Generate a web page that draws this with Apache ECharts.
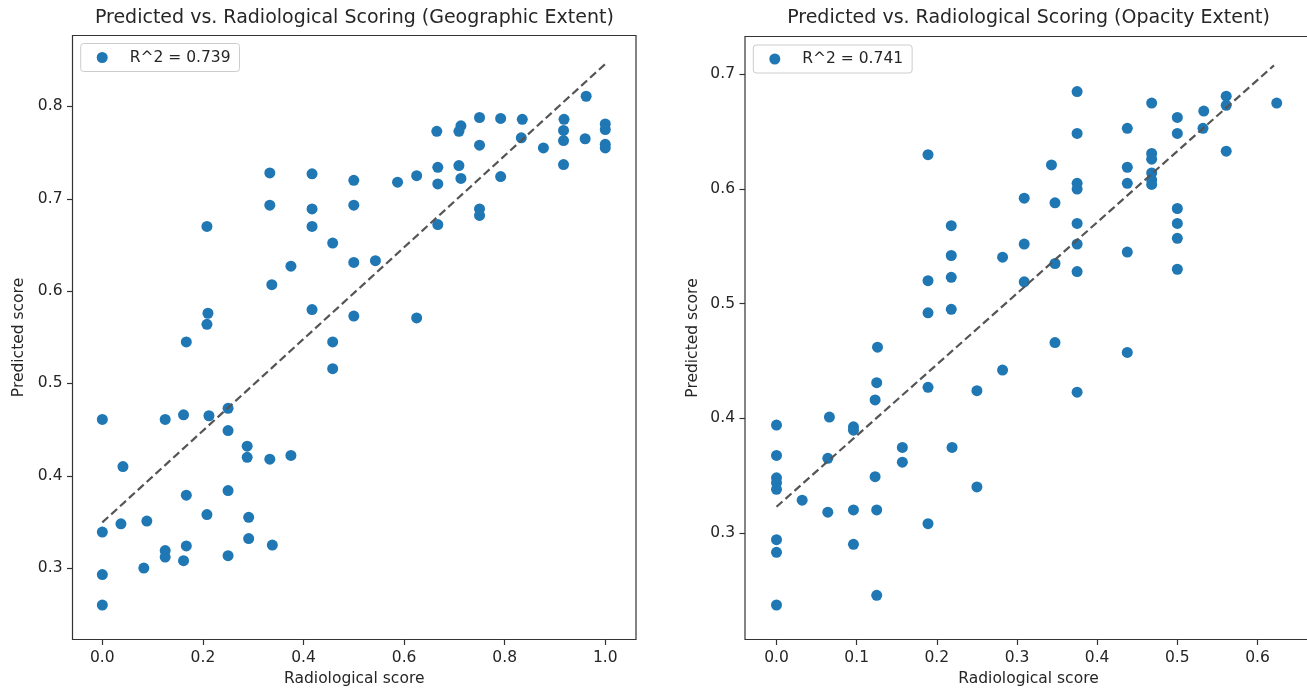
<!DOCTYPE html>
<html>
<head>
<meta charset="utf-8">
<script src="https://cdn.jsdelivr.net/npm/echarts@6/dist/echarts.min.js"></script>
<style>
html,body{margin:0;padding:0;background:#fff;}
#chart{width:1307px;height:691px;}
</style>
</head>
<body>
<div id="chart"></div>
<script>
// ---- Data ----
const geoTitle = 'Predicted vs. Radiological Scoring (Geographic Extent)';
const opaTitle = 'Predicted vs. Radiological Scoring (Opacity Extent)';
const geoLegend = 'R^2 = 0.739';
const opaLegend = 'R^2 = 0.741';
const xName = 'Radiological score';
const yName = 'Predicted score';

const geoX = [0.333,0.417,0.5,0.333,0.417,0.5,0.208,0.417,0.458,0.375,0.5,0.337,0.210,0.208,0.417,0.5,0.167,0.458,
  0.962,0.75,0.792,0.835,0.918,1.0,1.0,0.917,0.713,0.709,0.665,0.833,0.917,0.960,0.75,0.877,1.0,1.0,0.917,0.667,0.709,
  0.625,0.587,0.667,0.713,0.792,0.75,0.75,0.667,0.543,0.625,0.458,
  0.0,0.125,0.1615,0.212,0.25,0.25,0.288,0.288,0.333,0.375,0.041,0.167,0.25,0.208,0.291,0.0,0.037,0.0885,0.291,0.338,
  0.167,0.125,0.125,0.1615,0.25,0.0825,0.0,0.0];
const geoY = [0.728,0.727,0.720,0.693,0.689,0.693,0.670,0.670,0.652,0.627,0.631,0.607,0.576,0.564,0.580,0.573,0.545,0.545,
  0.811,0.788,0.787,0.786,0.786,0.781,0.775,0.774,0.779,0.773,0.773,0.766,0.763,0.765,0.758,0.755,0.759,0.755,0.737,0.734,0.736,
  0.725,0.718,0.716,0.722,0.724,0.689,0.682,0.672,0.633,0.571,0.516,
  0.461,0.461,0.466,0.465,0.473,0.449,0.432,0.420,0.418,0.422,0.410,0.379,0.384,0.358,0.355,0.339,0.348,0.351,0.332,0.325,
  0.324,0.319,0.312,0.308,0.3135,0.300,0.293,0.260];
const geoFitX = [0.0, 1.0];
const geoFitY = [0.3495, 0.846];

const opaX = [0.189,0.309,0.218,0.218,0.282,0.309,0.189,0.218,0.309,0.189,0.218,0.126,0.3474,0.4376,
  0.375,0.468,0.624,0.561,0.561,0.533,0.5,0.4376,0.5,0.375,0.532,0.561,0.468,0.468,0.343,0.4376,0.468,0.468,0.468,
  0.375,0.375,0.4376,0.3474,0.5,0.375,0.5,0.5,0.375,0.3474,0.4376,0.375,0.5,0.375,0.282,0.125,0.189,0.25,0.123,
  0.0,0.066,0.096,0.096,0.157,0.219,0.157,0.0,0.064,0.123,0.0,0.0,0.0,0.25,0.032,0.064,0.096,0.125,0.189,
  0.0,0.0,0.096,0.125,0.0];
const opaY = [0.630,0.592,0.568,0.542,0.5405,0.552,0.520,0.523,0.519,0.492,0.495,0.462,0.466,0.4574,
  0.685,0.675,0.675,0.681,0.673,0.668,0.6625,0.653,0.6485,0.6485,0.653,0.633,0.631,0.626,0.621,0.619,0.614,0.608,0.604,
  0.605,0.600,0.605,0.588,0.583,0.570,0.570,0.557,0.552,0.535,0.545,0.528,0.530,0.4227,0.442,0.431,0.427,0.424,0.416,
  0.394,0.401,0.3925,0.3896,0.3745,0.3745,0.3616,0.3675,0.365,0.349,0.348,0.3436,0.338,0.340,0.3285,0.318,0.320,0.320,0.308,
  0.294,0.283,0.290,0.2455,0.237];
const opaFitX = [0.0, 0.6206];
const opaFitY = [0.3227, 0.7079];

const geoXTicks = [0.0,0.2,0.4,0.6,0.8,1.0];
const geoYTicks = [0.3,0.4,0.5,0.6,0.7,0.8];
const opaXTicks = [0.0,0.1,0.2,0.3,0.4,0.5,0.6];
const opaYTicks = [0.3,0.4,0.5,0.6,0.7];

// ---- Build ----
const zip = (a,b) => a.map((v,i)=>[v,b[i]]);
const FONT = 'DejaVu Sans';
const BLUE = '#1f77b4';

function xAxis(gi, min, max, ticks){
  return {
    type:'value', gridIndex:gi, min:min, max:max, name:xName, nameLocation:'middle', nameGap:31,
    nameTextStyle:{fontFamily:FONT,fontSize:15.5,color:'#262626'},
    splitLine:{show:false}, axisLine:{show:false, onZero:false},
    axisTick:{show:true, length:5.5, lineStyle:{color:'#333',width:1.2}, customValues:ticks},
    axisLabel:{margin:10, fontFamily:FONT, fontSize:15.5, color:'#262626', customValues:ticks,
      formatter:v=>Number(v).toFixed(1)}
  };
}
function yAxis(gi, min, max, ticks, gap){
  return {
    type:'value', gridIndex:gi, min:min, max:max, name:yName, nameLocation:'middle', nameGap:gap,
    nameTextStyle:{fontFamily:FONT,fontSize:15.5,color:'#262626'},
    splitLine:{show:false}, axisLine:{show:false, onZero:false},
    axisTick:{show:true, length:5.5, lineStyle:{color:'#333',width:1.2}, customValues:ticks},
    axisLabel:{margin:10, fontFamily:FONT, fontSize:15.5, color:'#262626', customValues:ticks,
      formatter:v=>Number(v).toFixed(1)}
  };
}
function legend(left, top, name){
  return {
    left:left, top:top, data:[name], orient:'horizontal',
    itemWidth:11, itemHeight:11, icon:'circle',
    padding:[5,9,5,16],
    borderColor:'#cccccc', borderWidth:1, borderRadius:3,
    backgroundColor:'rgba(255,255,255,0.8)',
    textStyle:{fontFamily:FONT, fontSize:15.5, color:'#262626', lineHeight:18, padding:[0,0,0,17]}
  };
}

const chart = echarts.init(document.getElementById('chart'), null, {renderer:'canvas'});
chart.setOption({
  animation:false,
  backgroundColor:'#ffffff',
  title:[
    {text:geoTitle, left:354.4, top:9, textAlign:'center', padding:0,
     textStyle:{fontFamily:FONT,fontSize:19,fontWeight:'normal',color:'#262626'}},
    {text:opaTitle, left:1028.5, top:9, textAlign:'center', padding:0,
     textStyle:{fontFamily:FONT,fontSize:19,fontWeight:'normal',color:'#262626'}}
  ],
  legend:[legend(80.7, 43.5, geoLegend), legend(753.3, 45, opaLegend)],
  grid:[
    {left:72.5, top:35.5, width:563.5, height:604, show:true, borderColor:'#333', borderWidth:1.2,
     backgroundColor:'transparent', outerBoundsMode:'none', containLabel:false},
    {left:745, top:36.5, width:567, height:603, show:true, borderColor:'#333', borderWidth:1.2,
     backgroundColor:'transparent', outerBoundsMode:'none', containLabel:false}
  ],
  xAxis:[ xAxis(0, -0.0593, 1.0611, geoXTicks), xAxis(1, -0.0393, 0.6680, opaXTicks) ],
  yAxis:[ yAxis(0, 0.2227, 0.8768, geoYTicks, 46), yAxis(1, 0.2069, 0.7331, opaYTicks, 44) ],
  series:[
    {name:geoLegend, type:'scatter', xAxisIndex:0, yAxisIndex:0, data:zip(geoX,geoY),
     symbol:'circle', symbolSize:11, itemStyle:{color:BLUE, opacity:1}, z:2},
    {name:'fitGeo', type:'line', xAxisIndex:0, yAxisIndex:0, data:zip(geoFitX,geoFitY),
     symbol:'none', lineStyle:{color:'#555555', width:2.2, type:[8,4]}, z:3, silent:true},
    {name:opaLegend, type:'scatter', xAxisIndex:1, yAxisIndex:1, data:zip(opaX,opaY),
     symbol:'circle', symbolSize:11, itemStyle:{color:BLUE, opacity:1}, z:2},
    {name:'fitOpa', type:'line', xAxisIndex:1, yAxisIndex:1, data:zip(opaFitX,opaFitY),
     symbol:'none', lineStyle:{color:'#555555', width:2.2, type:[8,4]}, z:3, silent:true}
  ]
});
</script>
</body>
</html>
